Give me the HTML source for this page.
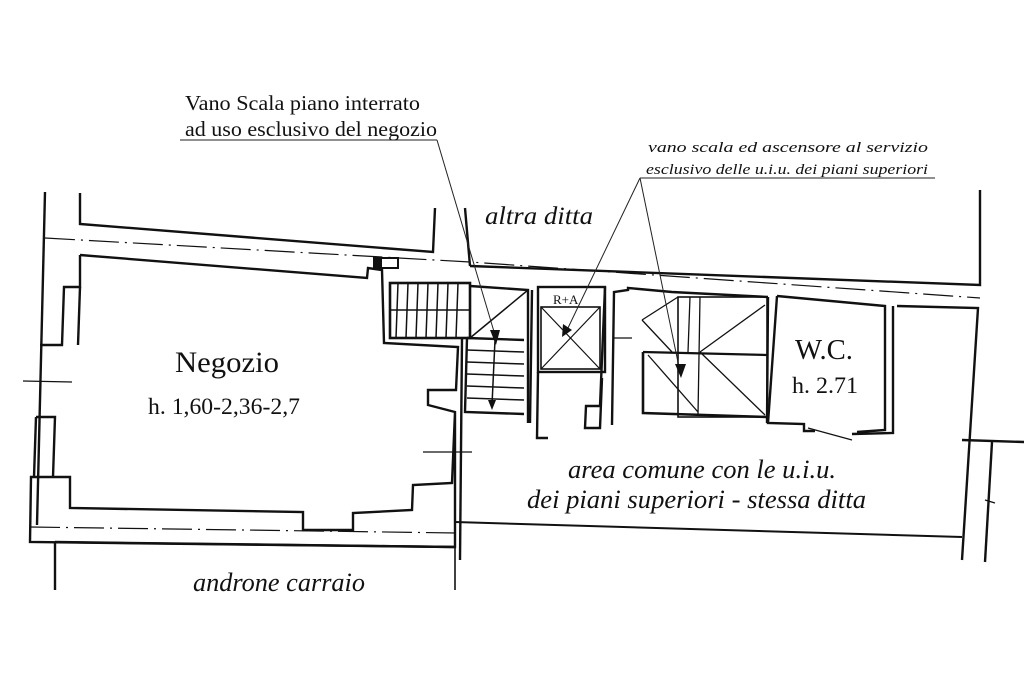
<!DOCTYPE html>
<html><head><meta charset="utf-8"><style>
html,body{margin:0;padding:0;background:#fff;width:1024px;height:683px;overflow:hidden}
svg{display:block}
text{font-family:"Liberation Serif",serif;fill:#111}
.i{font-style:italic}
</style></head><body>
<svg width="1024" height="683" viewBox="0 0 1024 683" xmlns="http://www.w3.org/2000/svg">
<g fill="none" stroke="#111" stroke-width="2.4" stroke-linejoin="miter">
<polyline points="80,193 80,224 433,252 435,208"/>
<polyline points="45,192 37,525"/>
<polyline points="45,238 470,262 980,298" stroke-width="1.2" stroke-dasharray="30,6,2,6"/>
<polyline points="80,255 80,287 64,287 62,345 40,345"/>
<polyline points="80,287 78,345"/>
<polyline points="36,417 55,417 53,477"/>
<polyline points="36,417 34,477"/>
<polyline points="80,255 367,278 368,268 382,270 384,343 458,347 456,390 428,390 428,405 455,412 452,483 413,485 412,510 353,513 353,530 303,530 303,512 70,508 70,477 31,477 30,542 455,547 455,412"/>
<polyline points="55,542 55,590"/>
<polyline points="55,542 455,547"/>
<polyline points="455,547 455,590" stroke-width="1.6"/>
<line x1="30" y1="527" x2="458" y2="533" stroke-width="1.2" stroke-dasharray="30,6,2,6"/>
<line x1="23" y1="381" x2="72" y2="382" stroke-width="1.2"/>
<line x1="423" y1="452" x2="472" y2="452" stroke-width="1.2"/>
<rect x="374" y="258" width="24" height="10" stroke-width="2"/>
<rect x="375" y="259" width="7" height="8" fill="#111" stroke="none"/>
<polyline points="470,266 465,208"/>
<polyline points="470,266 980,285 980,190"/>
<rect x="390" y="283" width="80" height="55" stroke-width="2.6"/>
<line x1="390" y1="310" x2="470" y2="310" stroke-width="1.5"/>
<g stroke-width="1.5">
<line x1="398" y1="283" x2="396" y2="338"/><line x1="408" y1="283" x2="406" y2="338"/><line x1="418" y1="283" x2="416" y2="338"/><line x1="428" y1="283" x2="426" y2="338"/><line x1="438" y1="283" x2="436" y2="338"/><line x1="448" y1="283" x2="446" y2="338"/><line x1="458" y1="283" x2="456" y2="338"/>
<line x1="467" y1="350" x2="524" y2="352"/><line x1="467" y1="362" x2="524" y2="364"/><line x1="467" y1="374" x2="524" y2="376"/><line x1="467" y1="386" x2="524" y2="388"/><line x1="467" y1="398" x2="524" y2="400"/>
<line x1="470" y1="338" x2="528" y2="290"/>
<line x1="495" y1="340" x2="492" y2="405"/>
</g>
<polyline points="470,286 528,290 528,423"/>
<polyline points="467,338 524,340"/>
<polyline points="467,338 465,412 524,414"/>
<polyline points="462,338 460,560"/>
<polyline points="530,423 532,290"/>
<rect x="538" y="287" width="67" height="85"/>
<rect x="541" y="307" width="59" height="62" stroke-width="1.6"/>
<line x1="541" y1="307" x2="600" y2="369" stroke-width="1.2"/>
<line x1="600" y1="307" x2="541" y2="369" stroke-width="1.2"/>
<polyline points="538,372 537,438 548,438"/>
<polyline points="605,287 600,406 586,406 585,428 600,428 602,378"/>
<polyline points="612,425 614,292 628,290 628,288 672,292 768,297"/>
<rect x="678" y="297" width="89" height="120" stroke-width="1.6"/>
<polyline points="643,352 643,413 767,417" stroke-width="2.6"/>
<line x1="643" y1="352" x2="767" y2="355" stroke-width="2.2"/>
<g stroke-width="1.3">
<line x1="700" y1="297" x2="698" y2="415"/>
<line x1="690" y1="297" x2="688" y2="352"/>
<line x1="700" y1="352" x2="765" y2="305"/>
<line x1="700" y1="352" x2="765" y2="415"/>
<line x1="678" y1="297" x2="642" y2="320"/>
<line x1="642" y1="320" x2="672" y2="352"/>
<line x1="632" y1="338" x2="614" y2="338"/>
<line x1="648" y1="355" x2="698" y2="412"/>
</g>
<polyline points="768,297 767,423"/>
<polyline points="777,296 885,306 885,430 857,432"/>
<polyline points="777,296 768,423 804,424 804,431 815,431"/>
<polyline points="893,306 893,433 852,434"/>
<polyline points="897,306 978,308 962,560"/>
<line x1="808" y1="428" x2="852" y2="440" stroke-width="1.2"/>
<polyline points="455,522 962,537" stroke-width="2"/>
<polyline points="962,440 1024,442"/>
<polyline points="992,442 985,562"/>
<line x1="985" y1="500" x2="995" y2="503" stroke-width="1.4"/>
</g>
<g stroke="#222" stroke-width="1" fill="none">
<line x1="180" y1="140" x2="437" y2="140"/>
<line x1="437" y1="140" x2="495" y2="335"/>
<line x1="640" y1="178" x2="935" y2="178"/>
<line x1="640" y1="178" x2="567" y2="330"/>
<line x1="640" y1="178" x2="680" y2="372"/>
</g>
<g fill="#111">
<polygon points="490,330 500,330 496,345"/>
<polygon points="563,324 572,330 562,337"/>
<polygon points="675,364 686,364 681,378"/>
<polygon points="488,400 496,400 492,410"/>
</g>
<text x="185" y="110" font-size="21" textLength="235" lengthAdjust="spacingAndGlyphs">Vano Scala piano interrato</text>
<text x="185" y="136" font-size="21" textLength="252" lengthAdjust="spacingAndGlyphs">ad uso esclusivo del negozio</text>
<text x="648" y="152" font-size="15" class="i" textLength="280" lengthAdjust="spacingAndGlyphs">vano scala ed ascensore al servizio</text>
<text x="646" y="174" font-size="15" class="i" textLength="282" lengthAdjust="spacingAndGlyphs">esclusivo delle u.i.u. dei piani superiori</text>
<text x="485" y="224" font-size="25" class="i" textLength="108" lengthAdjust="spacingAndGlyphs">altra ditta</text>
<text x="175" y="372" font-size="30" textLength="104" lengthAdjust="spacingAndGlyphs">Negozio</text>
<text x="148" y="414" font-size="23" textLength="152" lengthAdjust="spacingAndGlyphs">h. 1,60-2,36-2,7</text>
<text x="795" y="359" font-size="29" textLength="58" lengthAdjust="spacingAndGlyphs">W.C.</text>
<text x="792" y="393" font-size="23" textLength="66" lengthAdjust="spacingAndGlyphs">h. 2.71</text>
<text x="553" y="304" font-size="13" font-family="Liberation Sans">R+A</text>
<text x="568" y="478" font-size="26" class="i" textLength="268" lengthAdjust="spacingAndGlyphs">area comune con le u.i.u.</text>
<text x="527" y="508" font-size="26" class="i" textLength="339" lengthAdjust="spacingAndGlyphs">dei piani superiori - stessa ditta</text>
<text x="193" y="591" font-size="26" class="i" textLength="172" lengthAdjust="spacingAndGlyphs">androne carraio</text>
</svg>
</body></html>
